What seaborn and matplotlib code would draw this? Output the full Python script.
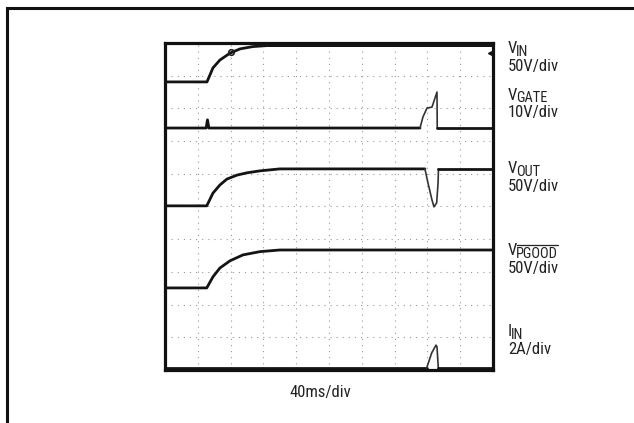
import numpy as np
import pandas as pd
import matplotlib
matplotlib.use("Agg")
import matplotlib.pyplot as plt
import matplotlib.font_manager as fm
from matplotlib.lines import Line2D
import seaborn as sns

# ---- data (time in ms, 40 ms/div; level in screen divisions from bottom) ----
vin_t = [0, 51.2, 58.5, 67.0, 79.3, 91.5, 107.0, 124.0, 400]
vin_y = [8.81, 8.81, 9.24, 9.48, 9.69, 9.82, 9.89, 9.92, 9.92]

vgate_t = [0, 50.2, 51.8, 53.5, 311.0, 314.6, 319.5, 325.6, 329.3, 331.7, 332.0, 400]
vgate_y = [7.40, 7.40, 7.65, 7.40, 7.40, 7.74, 8.01, 8.04, 8.32, 8.50, 7.40, 7.40]

vout_t = [0, 50.9, 58.5, 67.0, 75.6, 87.8, 100.0, 115.9, 140.0, 317.0, 320.7, 325.6, 328.0, 331.3, 333.0, 333.5, 400]
vout_y = [5.02, 5.02, 5.41, 5.66, 5.84, 5.96, 6.03, 6.09, 6.15, 6.15, 5.72, 5.20, 4.99, 5.11, 5.72, 6.15, 6.15]

vpg_t = [0, 50.9, 58.5, 67.0, 79.3, 95.1, 115.9, 140.0, 400]
vpg_y = [2.51, 2.51, 2.85, 3.12, 3.34, 3.52, 3.62, 3.67, 3.67]

iin_t = [0, 319.1, 325.2, 330.5, 331.7, 333.3, 400]
iin_y = [0.06, 0.06, 0.52, 0.76, 0.71, 0.06, 0.06]

label_main = ["V", "V", "V", "V", "I"]
label_sub = ["IN", "GATE", "OUT", "PGOOD", "IN"]
label_overline = [False, False, False, True, False]
label_scale = ["50V/div", "10V/div", "50V/div", "50V/div", "2A/div"]
label_baselines = [53, 100, 173, 255, 336]
xlabel = "40ms/div"

# ---- style ----
sns.set_theme(style="white")


def find_condensed():
    cands = []
    for f in fm.fontManager.ttflist:
        st = f.stretch
        is_cond = ("Narrow" in f.name or "Condensed" in f.name)
        if isinstance(st, str):
            is_cond = is_cond or st in ("condensed", "semi-condensed", "extra-condensed")
        elif isinstance(st, (int, float)):
            is_cond = is_cond or st <= 87
        if not is_cond:
            continue
        if f.style != "normal":
            continue
        w = f.weight
        if isinstance(w, str):
            if w not in ("normal", "regular", "book", "medium"):
                continue
        elif not (350 <= w <= 500):
            continue
        score = 0
        if "Liberation" in f.name:
            score -= 3
        if "Roboto" in f.name:
            score -= 2
        if "Mono" in f.name or "Serif" in f.name:
            score += 10
        cands.append((score, f.fname))
    cands.sort()
    return cands[0][1] if cands else None


cfile = find_condensed()
if cfile:
    FP = fm.FontProperties(fname=cfile)
    MAIN = 12.0
else:
    FP = fm.FontProperties(family=["Liberation Sans", "DejaVu Sans"])
    MAIN = 10.5
SUB = MAIN * 0.86

plt.rcParams["font.family"] = ["Liberation Sans", "DejaVu Sans"]

W, H = 634, 423
fig = plt.figure(figsize=(W / 100, H / 100), dpi=100)
fig.patch.set_facecolor("white")

# scope screen
L, T, R, B = 165, 43, 493, 370
ax = fig.add_axes([L / W, (H - B) / H, (R - L) / W, (B - T) / H])
ax.set_xlim(0, 400)
ax.set_ylim(0, 10)
for s in ax.spines.values():
    s.set_linewidth(2.3)
    s.set_color("#111111")

# dotted graticule
for k in range(1, 10):
    ax.axhline(k, color="#9a9a9a", lw=0.8, ls=(0, (1, 4.5)), zorder=1)
    ax.axvline(k * 40, color="#9a9a9a", lw=0.8, ls=(0, (1, 4.5)), zorder=1)

EV0, EV1 = 309, 336
traces = [(vin_t, vin_y), (vgate_t, vgate_y), (vout_t, vout_y), (vpg_t, vpg_y), (iin_t, iin_y)]
for t, y in traces:
    # split into runs: fast event segments thin, slow segments thick
    runs = []
    for i in range(len(t) - 1):
        thin = (EV0 <= t[i] <= EV1) and (EV0 <= t[i + 1] <= EV1)
        if runs and runs[-1][0] == thin:
            runs[-1][1].append(i + 1)
        else:
            runs.append([thin, [i, i + 1]])
    for thin, idx in runs:
        part = pd.DataFrame({"t": [t[j] for j in idx], "y": [y[j] for j in idx]})
        sns.lineplot(data=part, x="t", y="y", ax=ax,
                     color="#333333" if thin else "#141414",
                     linewidth=1.2 if thin else 2.0,
                     sort=False, estimator=None, zorder=3,
                     solid_capstyle="round")
ax.set_xlabel("")
ax.set_ylabel("")
ax.set_xticks([])
ax.set_yticks([])

# small trigger markers
ax.plot([80], [9.72], marker="o", ms=4, mfc="none", mec="#222222", mew=1.2, zorder=4)
ax.plot([397], [9.70], marker="<", ms=5, color="#111111", zorder=4)

# outer frame
frame = Line2D([7 / W, 7 / W, 1.0], [0.0, 1 - 8 / H, 1 - 8 / H], transform=fig.transFigure,
               color="#111111", lw=2.2, solid_capstyle="butt", solid_joinstyle="miter")
fig.add_artist(frame)

# channel labels
TXT = "#222222"
X0 = 508
fig.canvas.draw()
renderer = fig.canvas.get_renderer()
for m, s, ov, sc, yb in zip(label_main, label_sub, label_overline, label_scale, label_baselines):
    tm = fig.text(X0 / W, 1 - yb / H, m, fontproperties=FP, fontsize=MAIN, color=TXT,
                  va="baseline", ha="left")
    bb = tm.get_window_extent(renderer)
    xs = bb.x1 - 1.2
    ts = fig.text(xs / W, 1 - (yb + 2.5) / H, s, fontproperties=FP, fontsize=SUB, color=TXT,
                  va="baseline", ha="left")
    if ov:
        sb = ts.get_window_extent(renderer)
        ytop = (H - (yb + 2.5)) + SUB * 0.74 * 100 / 72 + 1.5
        fig.add_artist(Line2D([(sb.x0 + 0.8) / W, sb.x1 / W], [ytop / H, ytop / H],
                              transform=fig.transFigure, color=TXT, lw=0.9))
    fig.text(X0 / W, 1 - (yb + 17.5) / H, sc, fontproperties=FP, fontsize=MAIN, color=TXT,
             va="baseline", ha="left")

fig.text(320 / W, 1 - 397 / H, xlabel, fontproperties=FP, fontsize=MAIN, color=TXT,
         va="baseline", ha="center")

fig.savefig("out.png", dpi=100, facecolor="white")
